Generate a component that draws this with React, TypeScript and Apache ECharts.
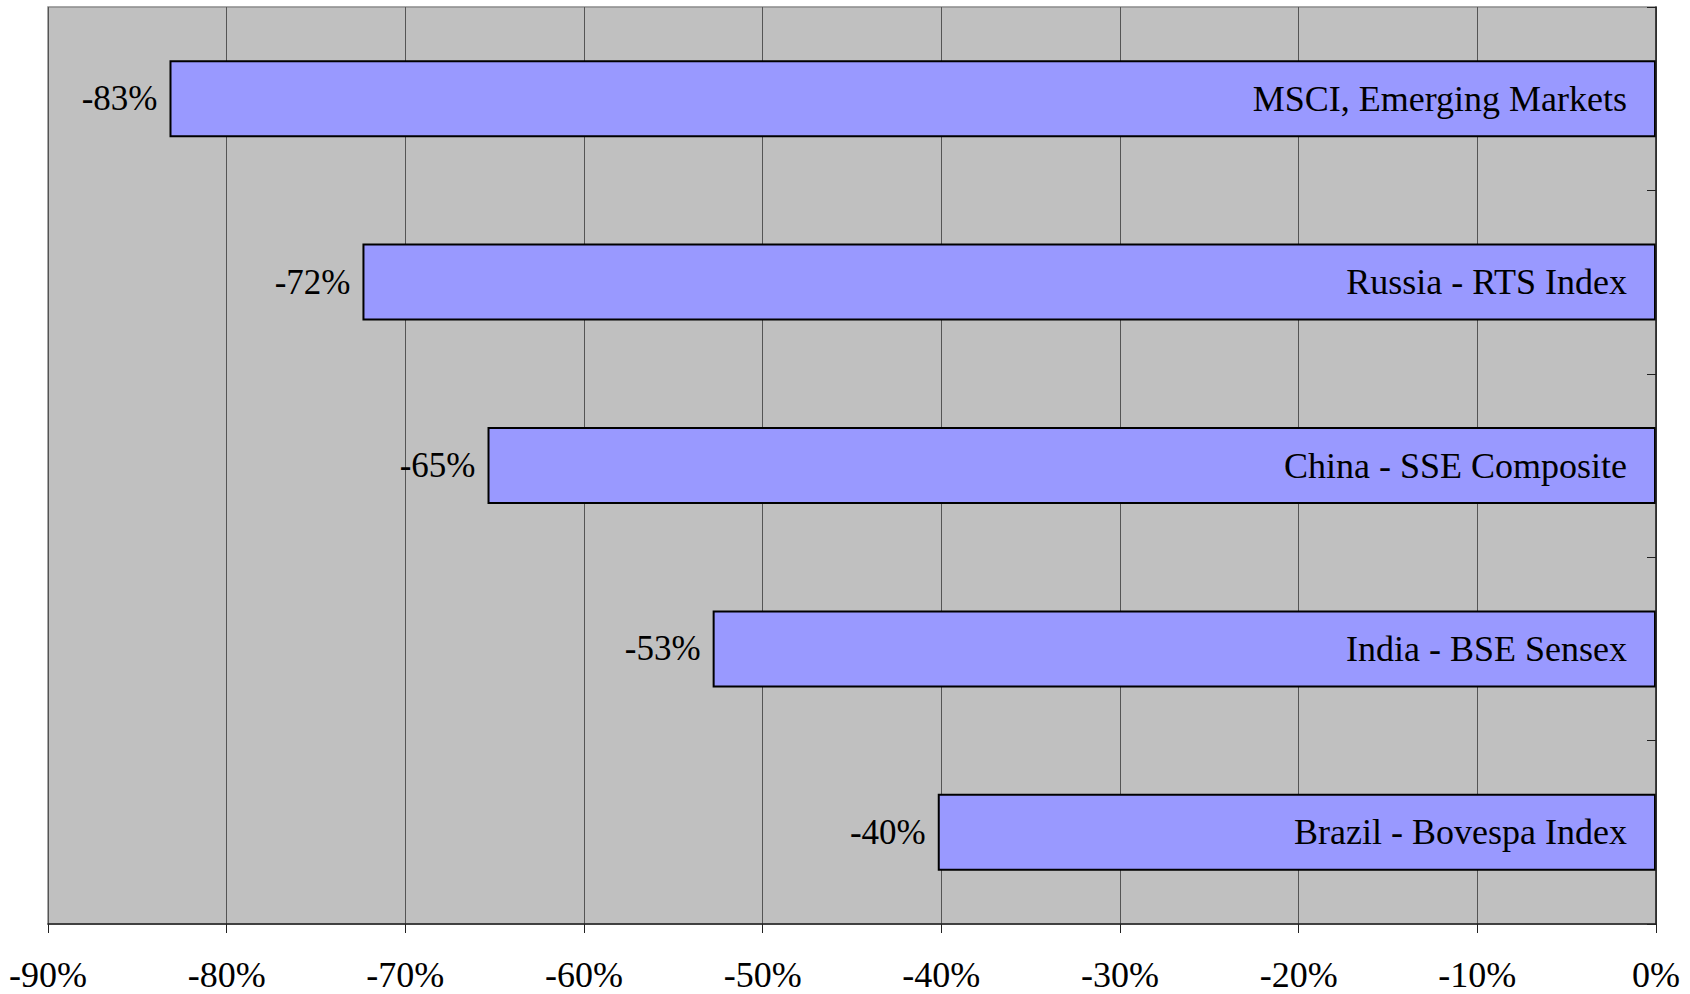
import React, { useEffect, useRef } from "react";
import * as echarts from "echarts";

const categories = [
  "MSCI, Emerging Markets",
  "Russia - RTS Index",
  "China - SSE Composite",
  "India - BSE Sensex",
  "Brazil - Bovespa Index",
];
const values = [-83.2, -72.4, -65.4, -52.8, -40.2];
const labelValues = [-83, -72, -65, -53, -40];

const FONT = "Liberation Serif";

export default function App() {
  const ref = useRef<HTMLDivElement>(null);
  useEffect(() => {
    const chart = echarts.init(ref.current!, null, { renderer: "svg" });
    chart.setOption({
      animation: false,
      grid: {
        left: 48,
        top: 7,
        right: 34,
        bottom: 70,
        show: true,
        backgroundColor: "#C0C0C0",
        borderColor: "#8a8a8a",
        borderWidth: 1.5,
      },
      xAxis: {
        type: "value",
        min: -90,
        max: 0,
        interval: 10,
        axisLine: { show: true, lineStyle: { color: "#222", width: 1.5 } },
        axisTick: { show: true, length: 9, lineStyle: { color: "#222", width: 1 } },
        splitLine: { show: true, lineStyle: { color: "#555", width: 1 } },
        axisLabel: {
          formatter: (v: number) => v + "%",
          color: "#000",
          fontFamily: FONT,
          fontSize: 36,
          lineHeight: 34,
          margin: 34,
        },
      },
      yAxis: {
        type: "category",
        data: categories,
        inverse: true,
        position: "right",
        z: 10,
        axisLine: { show: true, lineStyle: { color: "#222", width: 1.5 } },
        axisTick: { show: true, inside: true, length: 9, lineStyle: { color: "#222" } },
        splitLine: { show: false },
        axisLabel: {
          inside: true,
          margin: 29,
          color: "#000",
          fontFamily: FONT,
          fontSize: 36,
        },
      },
      series: [
        {
          type: "bar",
          data: values,
          barWidth: "42%",
          itemStyle: { color: "#9999FF", borderColor: "#000", borderWidth: 2 },
          label: {
            show: true,
            position: "left",
            distance: 12,
            color: "#000",
            fontFamily: FONT,
            fontSize: 35,
            formatter: (p: any) => labelValues[p.dataIndex] + "%",
          },
        },
      ],
    });
    return () => chart.dispose();
  }, []);
  return (
    <div
      ref={ref}
      style={{ position: "fixed", left: 0, top: 0, width: 1690, height: 994, background: "#fff" }}
    />
  );
}
